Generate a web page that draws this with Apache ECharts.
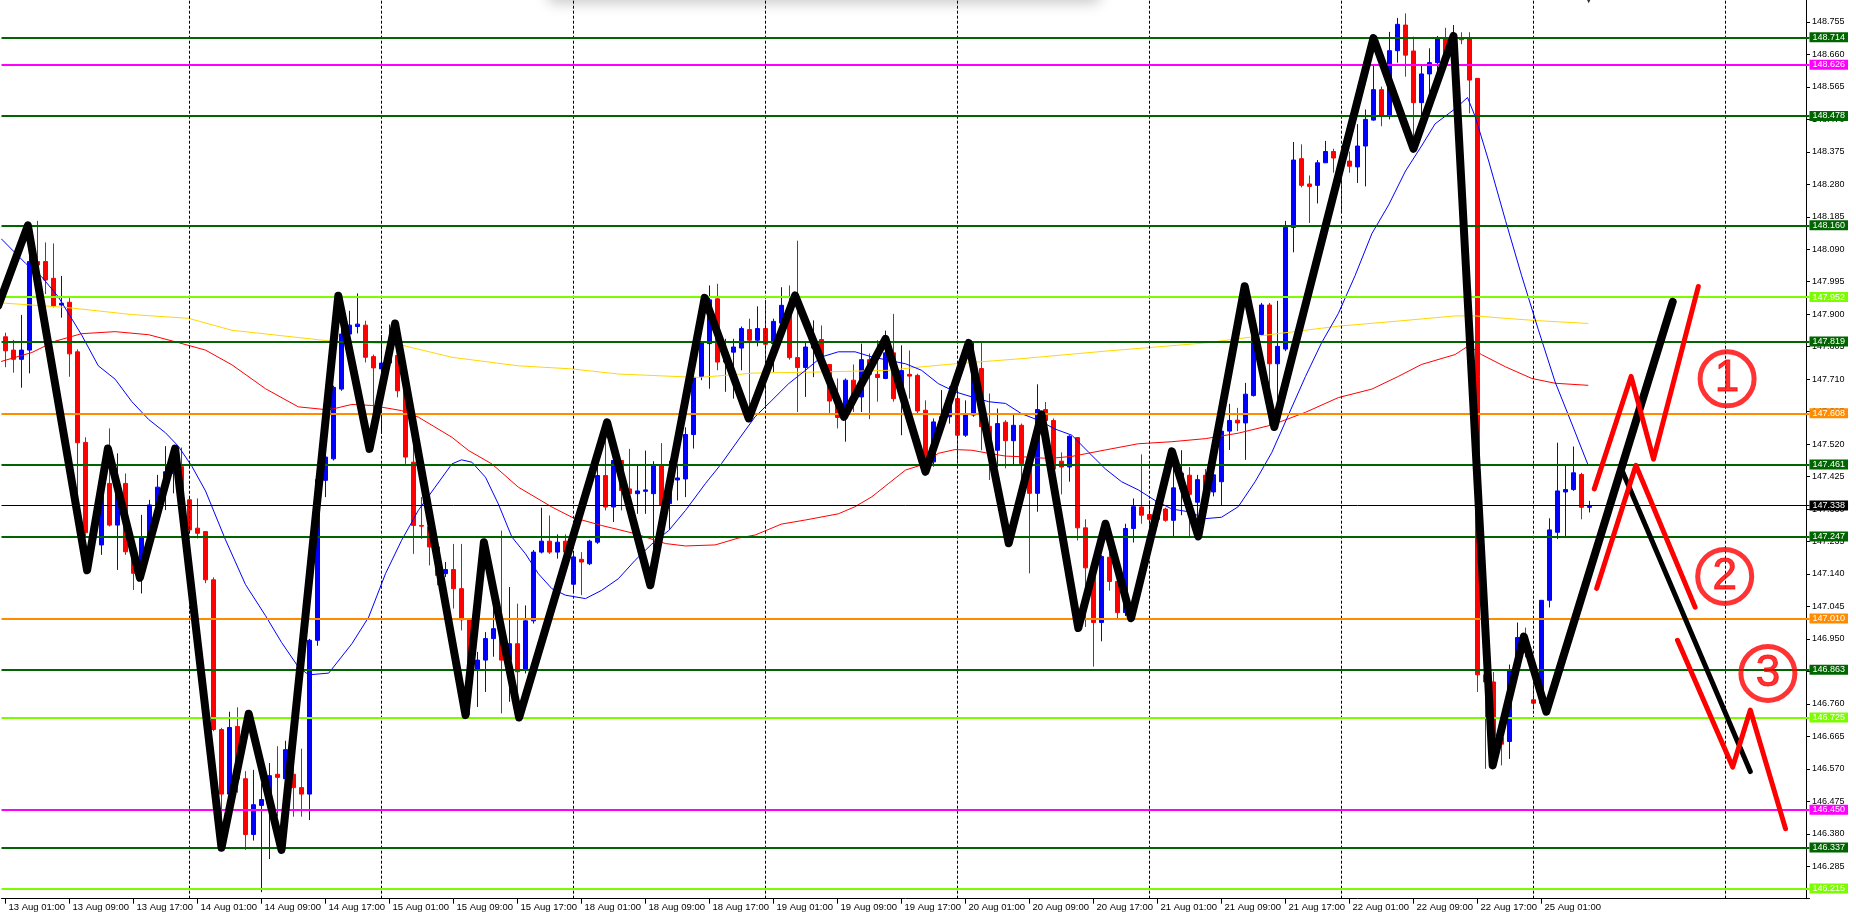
<!DOCTYPE html>
<html><head><meta charset="utf-8">
<script src="https://cdn.jsdelivr.net/npm/echarts/dist/echarts.min.js"></script>
<style>html,body{margin:0;padding:0;background:#fff;overflow:hidden}#c{width:1856px;height:920px}</style>
</head><body><div id="c"></div>
<script>
// ---- categories / tick labels ----
const tradingDays = ['13 Aug','14 Aug','15 Aug','18 Aug','19 Aug','20 Aug','21 Aug','22 Aug','25 Aug'];
const firstDayStartHour = 1;
const lastDayBarCount = 8;
const totalSlots = 226;
const labelEvery = 8;
const lastLabelIndex = 192;
const separatorIdx = [23,47,71,95,119,143,167,191,215];

// ---- candles [open, close, low, high] (USDJPY H1) ----
const ohlc = [
[147.834,147.793,147.745,147.846],[147.795,147.768,147.729,147.825],[147.768,147.795,147.685,147.898],[147.795,148.054,147.727,148.088],
[148.054,148.044,148.000,148.173],[148.054,148.000,147.959,148.110],[148.005,147.924,147.920,148.107],[147.927,147.932,147.890,148.012],
[147.935,147.784,147.717,147.950],[147.790,147.524,147.259,147.797],[147.525,147.261,147.250,147.540],[147.256,147.240,147.220,147.270],
[147.225,147.405,147.196,147.454],[147.405,147.283,147.279,147.566],[147.283,147.405,147.152,147.493],[147.405,147.205,147.196,147.434],
[147.220,147.142,147.093,147.220],[147.142,147.249,147.083,147.313],[147.249,147.342,147.244,147.357],[147.342,147.394,147.327,147.430],
[147.394,147.439,147.327,147.514],[147.434,147.454,147.376,147.513],[147.454,147.357,147.350,147.510],[147.357,147.269,147.260,147.365],
[147.274,147.259,147.244,147.361],[147.264,147.123,147.113,147.264],[147.123,146.685,146.680,147.130],[146.685,146.496,146.340,146.690],
[146.496,146.691,146.476,146.737],[146.694,146.540,146.500,146.750],[146.541,146.378,146.333,146.563],[146.378,146.465,146.360,146.567],
[146.463,146.480,146.209,146.528],[146.483,146.550,146.306,146.587],[146.554,146.545,146.430,146.636],[146.541,146.626,146.400,146.652],
[146.554,146.515,146.430,146.626],[146.515,146.496,146.430,146.629],[146.496,146.946,146.420,146.950],[146.946,147.416,146.930,147.440],
[147.414,147.482,147.365,147.500],[147.477,147.686,147.472,147.691],[147.681,147.842,147.676,147.954],[147.842,147.868,147.745,147.910],
[147.864,147.871,147.844,147.961],[147.868,147.774,147.759,147.881],[147.776,147.743,147.510,147.782],[147.740,147.757,147.550,147.839],
[147.757,147.779,147.740,147.870],[147.779,147.676,147.657,147.800],[147.678,147.482,147.462,147.680],[147.467,147.282,147.199,147.516],
[147.282,147.280,147.243,147.365],[147.277,147.219,147.165,147.280],[147.219,147.136,147.107,147.220],[147.141,147.153,147.131,147.175],
[147.153,147.097,147.039,147.228],[147.097,147.006,146.975,147.228],[147.006,146.858,146.727,147.010],[146.858,146.888,146.751,146.912],
[146.888,146.951,146.795,146.970],[146.951,146.980,146.898,147.058],[146.980,146.888,146.732,147.267],[146.888,146.936,146.766,147.102],
[146.936,146.854,146.720,147.053],[146.858,147.003,146.849,147.048],[147.003,147.204,146.995,147.210],[147.204,147.236,147.200,147.334],
[147.236,147.204,147.199,147.311],[147.204,147.233,147.185,147.256],[147.236,147.204,147.185,147.256],[147.110,147.190,147.090,147.200],
[147.183,147.175,147.078,147.204],[147.170,147.236,147.166,147.240],[147.233,147.428,147.228,147.511],[147.428,147.336,147.326,147.584],
[147.336,147.472,147.292,147.491],[147.472,147.384,147.326,147.472],[147.389,147.375,147.316,147.506],[147.375,147.383,147.316,147.457],
[147.382,147.386,147.316,147.501],[147.375,147.457,147.110,147.470],[147.457,147.340,147.336,147.523],[147.346,147.415,147.272,147.471],
[147.415,147.421,147.355,147.462],[147.418,147.548,147.365,147.569],[147.548,147.715,147.507,147.735],[147.718,147.816,147.707,147.819],
[147.814,147.942,147.682,147.984],[147.945,147.760,147.736,147.989],[147.760,147.790,147.673,147.828],[147.789,147.804,147.653,147.828],
[147.801,147.858,147.736,147.864],[147.855,147.824,147.595,147.887],[147.824,147.858,147.806,147.923],[147.858,147.812,147.624,147.942],
[147.814,147.879,147.731,147.887],[147.874,147.926,147.858,147.979],[147.923,147.773,147.767,147.984],[147.773,147.744,147.614,148.115],
[147.744,147.804,147.658,147.819],[147.801,147.819,147.716,147.882],[147.826,147.753,147.740,147.867],[147.753,147.646,147.611,147.753],
[147.646,147.598,147.566,147.712],[147.598,147.707,147.527,147.712],[147.707,147.658,147.614,147.753],[147.658,147.767,147.614,147.814],
[147.767,147.724,147.593,147.785],[147.724,147.715,147.644,147.824],[147.712,147.787,147.710,147.852],[147.787,147.653,147.644,147.901],
[147.660,147.735,147.546,147.809],[147.724,147.719,147.653,147.794],[147.721,147.617,147.609,147.726],[147.619,147.468,147.439,147.648],
[147.468,147.585,147.454,147.595],[147.585,147.600,147.550,147.678],[147.600,147.653,147.580,147.689],[147.653,147.546,147.468,147.692],
[147.546,147.605,147.541,147.648],[147.605,147.746,147.600,147.816],[147.741,147.571,147.502,147.816],[147.572,147.502,147.415,147.668],
[147.502,147.580,147.452,147.624],[147.584,147.530,147.449,147.590],[147.530,147.575,147.459,147.605],[147.575,147.463,147.337,147.580],
[147.463,147.376,147.142,147.493],[147.376,147.621,147.322,147.695],[147.621,147.589,147.500,147.643],[147.589,147.447,147.373,147.595],
[147.470,147.453,147.373,147.496],[147.453,147.543,147.410,147.546],[147.539,147.275,147.238,147.540],[147.275,147.158,146.985,147.300],
[147.158,146.998,146.869,147.164],[146.998,147.191,146.943,147.195],[147.189,147.118,147.091,147.281],[147.118,147.027,147.011,147.189],
[147.027,147.273,147.017,147.287],[147.273,147.337,147.232,147.361],[147.336,147.312,147.287,147.490],[147.314,147.300,147.244,147.355],
[147.300,147.351,147.280,147.367],[147.330,147.297,147.293,147.334],[147.297,147.392,147.250,147.496],[147.390,147.435,147.312,147.502],
[147.429,147.373,147.250,147.453],[147.350,147.416,147.250,147.430],[147.429,147.380,147.367,147.447],[147.380,147.430,147.367,147.453],
[147.410,147.558,147.339,147.576],[147.558,147.589,147.503,147.638],[147.590,147.582,147.558,147.626],[147.582,147.666,147.474,147.699],
[147.662,147.841,147.659,147.843],[147.841,147.927,147.838,147.933],[147.927,147.755,147.576,147.933],[147.755,147.806,147.601,147.939],
[147.798,148.154,147.792,148.173],[148.154,148.351,148.081,148.404],[148.355,148.277,148.271,148.397],[148.281,148.274,148.167,148.306],
[148.277,148.343,148.224,148.351],[148.343,148.376,148.343,148.407],[148.376,148.357,148.314,148.384],[148.357,148.351,148.197,148.382],
[148.348,148.333,148.314,148.376],[148.331,148.392,148.284,148.456],[148.392,148.470,148.274,148.499],[148.468,148.557,148.466,148.628],
[148.557,148.480,148.450,148.566],[148.480,148.671,148.470,148.726],[148.671,148.748,148.636,148.767],[148.746,148.658,148.595,148.780],
[148.670,148.519,148.390,148.712],[148.519,148.603,148.450,148.629],[148.603,148.636,148.541,148.678],[148.636,148.705,148.595,148.714],
[148.709,148.636,148.620,148.738],[148.636,148.709,148.595,148.746],[148.709,148.703,148.690,148.725],[148.709,148.585,148.488,148.725],
[148.590,146.845,146.795,148.590],[146.845,146.824,146.570,146.853],[146.824,146.665,146.600,146.853],[146.661,146.642,146.580,146.720],
[146.650,146.860,146.599,146.875],[146.860,146.954,146.838,146.998],[146.954,146.910,146.896,146.983],[146.772,146.762,146.744,146.860],
[146.762,147.063,146.752,147.063],[147.063,147.269,147.042,147.303],[147.262,147.383,147.242,147.524],[147.380,147.387,147.245,147.460],
[147.387,147.436,147.383,147.513],[147.431,147.335,147.300,147.436],[147.335,147.338,147.320,147.354]
];

// ---- moving averages: [barIndex, price] ----
const maBlue = [[-0.5,148.12],[2.5,148.049],[4.5,148.010],[6.6,147.951],[9.5,147.840],[11.6,147.749],[13.7,147.710],[15.8,147.644],[17.9,147.592],[20,147.553],[21.6,147.514],[23.3,147.455],[25,147.383],[27.5,147.240],[30,147.109],[32.5,147.018],[34.5,146.940],[36.6,146.868],[37.9,146.845],[40.4,146.850],[43.3,146.936],[45.4,147.014],[47.5,147.141],[49.5,147.238],[51.6,147.326],[53.7,147.394],[55.8,147.462],[57,147.474],[58.3,147.467],[60,147.423],[61.6,147.345],[63.3,147.248],[65,147.199],[66.6,147.141],[68.3,147.097],[70,147.078],[72.5,147.068],[74.5,147.092],[76.6,147.126],[78.7,147.180],[80.8,147.228],[82.9,147.267],[85,147.326],[87.5,147.405],[89.5,147.463],[91.6,147.532],[93.7,147.600],[95.8,147.648],[97.9,147.697],[100,147.736],[102,147.775],[104.1,147.790],[106.2,147.790],[108.3,147.775],[110.4,147.765],[112.5,147.755],[114.5,147.736],[116.6,147.697],[118.7,147.673],[120.8,147.658],[122.9,147.644],[125,147.639],[127,147.609],[129.1,147.590],[131.2,147.564],[133.3,147.546],[135.4,147.496],[137.5,147.447],[139.5,147.410],[141.6,147.386],[143.7,147.355],[145.8,147.330],[147.9,147.322],[150,147.302],[152,147.306],[154.1,147.337],[156.2,147.410],[158.3,147.496],[160.4,147.607],[162.5,147.718],[164.5,147.816],[166.6,147.902],[168.7,148.013],[170.8,148.136],[172.9,148.220],[175,148.319],[177,148.392],[178.7,148.457],[181.2,148.501],[182.75,148.534],[183.7,148.479],[185.4,148.348],[187.5,148.174],[189.5,148.014],[191.6,147.855],[193.7,147.702],[195.8,147.579],[197.8,147.460]];
const maRed = [[-0.5,147.762],[3.3,147.788],[6.2,147.821],[9.5,147.843],[13.7,147.849],[17.9,147.840],[21.6,147.817],[25,147.795],[28.3,147.752],[32.5,147.682],[36.6,147.629],[40.4,147.620],[43.3,147.636],[45.8,147.633],[49.5,147.618],[51.6,147.599],[55.8,147.540],[57.9,147.501],[60.8,147.462],[64.1,147.394],[68.3,147.336],[70.8,147.306],[74.5,147.282],[78.7,147.258],[82.5,147.229],[85,147.222],[88.7,147.225],[91.6,147.245],[93.7,147.254],[97,147.286],[100,147.298],[104.1,147.316],[106.2,147.337],[108.3,147.366],[110.4,147.405],[112.5,147.444],[114.5,147.459],[116.6,147.493],[118.7,147.504],[120.8,147.502],[122.9,147.493],[125,147.485],[127,147.483],[130.4,147.478],[133.3,147.484],[137.5,147.503],[141.6,147.521],[145.8,147.527],[150,147.536],[154.1,147.552],[158.3,147.576],[162.5,147.613],[166.6,147.656],[170.8,147.681],[174.1,147.718],[177,147.753],[181.2,147.782],[182.9,147.808],[184.5,147.782],[187.5,147.746],[190.8,147.712],[193.7,147.698],[197.8,147.692]];
const maGold = [[-0.5,147.933],[7.5,147.920],[15.8,147.899],[22.9,147.888],[28.3,147.853],[40.8,147.821],[49.1,147.812],[55.8,147.774],[64.1,147.749],[70.8,147.740],[76.6,147.725],[86.6,147.715],[93.7,147.728],[102,147.731],[110.4,147.736],[114.5,147.746],[118.7,147.755],[127,147.770],[137.5,147.792],[150,147.816],[158.3,147.841],[166.6,147.865],[174.1,147.880],[181.2,147.895],[183.7,147.895],[187.5,147.888],[191.6,147.881],[197.8,147.873]];

// ---- horizontal price levels ----
const levelPrices = [148.714,148.626,148.478,148.160,147.952,147.819,147.608,147.461,147.338,147.247,147.010,146.863,146.725,146.450,146.337,146.215];
const levelColors = ['#006400','#FF00FF','#006400','#006400','#7CFC00','#006400','#FF8C00','#006400','#000000','#006400','#FF8C00','#006400','#7CFC00','#FF00FF','#006400','#7CFC00'];
const levelWidths = [2,2,2,2,2,2,2,2,1,2,2,2,2,2,2,2];

// ---- hand-drawn annotations: [barIndex, price] ----
const zigzag = [[-0.9,147.925],[2.8,148.160],[10.2,147.151],[12.8,147.507],[16.8,147.129],[21.2,147.507],[27.0,146.339],[30.4,146.731],[34.5,146.333],[41.6,147.954],[45.5,147.506],[48.7,147.873],[57.5,146.727],[59.8,147.233],[64.2,146.720],[75.2,147.584],[80.6,147.107],[87.4,147.948],[92.9,147.595],[98.7,147.955],[104.8,147.600],[110.0,147.828],[115.0,147.439],[120.4,147.816],[125.4,147.230],[129.5,147.607],[134.1,146.982],[137.5,147.287],[140.7,147.011],[145.8,147.499],[149.1,147.250],[154.9,147.982],[158.6,147.570],[171.0,148.708],[176.0,148.384],[181.0,148.714],[185.9,146.580],[189.8,146.957],[192.6,146.737],[208.4,147.936]];
const projBlack = [[202.1,147.441],[218.1,146.562]];
const redPath1 = [[198.6,147.389],[203.2,147.718],[206.0,147.476],[211.6,147.981]];
const redPath2 = [[198.9,147.098],[203.8,147.458],[211.2,147.043]];
const redPath3 = [[209.0,146.946],[215.9,146.575],[218.1,146.742],[222.5,146.395]];
const circledNums = [[215.2,147.711,'1'],[214.9,147.133,'2'],[220.3,146.849,'3']];
const topArrow = [[197.9,148.826]];

// ---- build ----
const categories = [];
tradingDays.forEach((d, i) => {
  const start = i === 0 ? firstDayStartHour : 0;
  const end = i === tradingDays.length - 1 ? lastDayBarCount : 24;
  for (let h = start; h < end; h++) categories.push(d + ' ' + String(h).padStart(2, '0') + ':00');
});
while (categories.length < totalSlots) categories.push('~' + categories.length);
const showIdx = (i) => i % labelEvery === 0 && i <= lastLabelIndex;

const FONT = 'Liberation Sans';
const chart = echarts.init(document.getElementById('c'), null, {renderer: 'canvas'});

const levelLines = levelPrices.map((p, i) => ({
  yAxis: p,
  lineStyle: {color: levelColors[i], width: levelWidths[i], type: 'solid'},
  label: {show: true, position: 'end', distance: 0, formatter: p.toFixed(3), color: '#fff',
    backgroundColor: levelColors[i], padding: [1, 3, 0, 3], fontSize: 9, lineHeight: 9, fontFamily: FONT}
}));

const lineSeries = (data, color, width, z) => ({
  type: 'line', xAxisIndex: 1, yAxisIndex: 0, data, symbol: 'none', z, silent: true,
  lineStyle: {color, width, cap: 'round', join: 'round'}
});

chart.setOption({
  animation: false,
  backgroundColor: '#ffffff',
  grid: {left: 1.5, right: 46.5, top: -10.5, bottom: 21.3, containLabel: false, outerBoundsMode: 'none'},
  graphic: [
    {type: 'rect', silent: true, z: 0, shape: {x: 548, y: -24, width: 552, height: 22, r: 6},
     style: {fill: '#ffffff', shadowBlur: 14, shadowColor: 'rgba(0,0,0,0.22)', shadowOffsetY: 5}}
  ],
  xAxis: [
    {type: 'category', data: categories, boundaryGap: true, position: 'bottom',
     axisLine: {show: true, lineStyle: {color: '#000', width: 1}},
     axisTick: {show: true, interval: (i) => showIdx(i), alignWithLabel: true, length: 5, lineStyle: {color: '#000'}},
     axisLabel: {interval: (i) => showIdx(i), align: 'left', margin: 4, padding: [0, 0, 0, 3], color: '#000',
       fontSize: 9.5, fontFamily: FONT, formatter: (v) => v.charAt(0) === '~' ? '' : v},
     splitLine: {show: false}},
    {type: 'value', min: -0.5, max: totalSlots - 0.5, show: false}
  ],
  yAxis: {type: 'value', position: 'right', offset: -3.5, min: 146.19, max: 148.85, interval: 0.095,
    axisLine: {show: true, onZero: false, lineStyle: {color: '#000', width: 1}},
    axisTick: {show: true, length: 4, lineStyle: {color: '#000'}},
    axisLabel: {margin: 6, color: '#000', fontSize: 9, fontFamily: FONT, showMinLabel: false, showMaxLabel: false,
      formatter: (v) => v.toFixed(3)},
    splitLine: {show: false}},
  series: [
    {type: 'line', xAxisIndex: 1, data: [], z: 1, silent: true,
     markLine: {silent: true, symbol: ['none', 'none'], animation: false, label: {show: false},
       lineStyle: {color: '#000', width: 1, type: [3, 2]},
       data: separatorIdx.map(k => ({xAxis: k}))}},
    {type: 'candlestick', xAxisIndex: 0, yAxisIndex: 0, data: ohlc, barWidth: 5, z: 2, silent: true,
     itemStyle: {color: '#0000FF', color0: '#FF0000', borderColor: '#0000FF', borderColor0: '#FF0000', borderWidth: 1}},
    {type: 'line', xAxisIndex: 1, data: [], z: 3, silent: true,
     markLine: {silent: true, symbol: ['none', 'none'], animation: false, data: levelLines}},
    lineSeries(maGold, '#FFD700', 1, 4),
    lineSeries(maRed, '#FF0000', 1, 4),
    lineSeries(maBlue, '#0000FF', 1, 4),
    lineSeries(zigzag, '#000000', 8, 6),
    lineSeries(projBlack, '#000000', 5, 6),
    lineSeries(redPath1, '#FF0000', 5, 7),
    lineSeries(redPath2, '#FF0000', 5, 7),
    lineSeries(redPath3, '#FF0000', 5, 7),
    {type: 'scatter', xAxisIndex: 1, data: circledNums, symbol: 'circle', symbolSize: 54, z: 8, silent: true,
     itemStyle: {color: 'rgba(255,255,255,0)', borderColor: '#FF0000', borderWidth: 5},
     label: {show: true, position: 'inside', formatter: (p) => p.value[2], color: '#FF0000', fontSize: 44,
       fontFamily: FONT, textBorderColor: '#FF0000', textBorderWidth: 1}},
    {type: 'scatter', xAxisIndex: 1, data: topArrow, symbol: 'triangle', symbolRotate: 180, symbolSize: [11, 11], z: 8, silent: true,
     itemStyle: {color: '#000'}}
  ]
});
</script>
</body></html>
